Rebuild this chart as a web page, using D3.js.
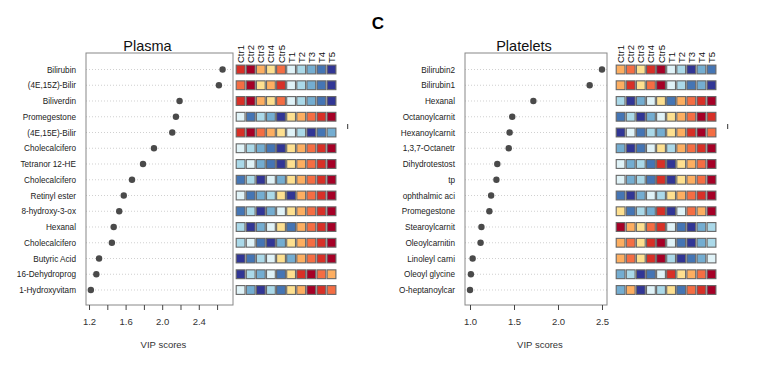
<!DOCTYPE html>
<html>
<head>
<meta charset="utf-8">
<script src="https://cdn.jsdelivr.net/npm/d3@7"></script>
<style>
  body { margin: 0; background: #fff; }
  svg { font-family: "Liberation Sans", Arial, sans-serif; }
</style>
</head>
<body>
<svg width="780" height="373"></svg>
<script>
// samples (heatmap columns)
const samples = ["Ctr1", "Ctr2", "Ctr3", "Ctr4", "Ctr5", "T1", "T2", "T3", "T4", "T5"]

// Plasma
const plasmaNames = ["Bilirubin", "(4E,15Z)-Bilir", "Biliverdin", "Promegestone", "(4E,15E)-Bilir",
  "Cholecalcifero", "Tetranor 12-HE", "Cholecalcifero", "Retinyl ester", "8-hydroxy-3-ox",
  "Hexanal", "Cholecalcifero", "Butyric Acid", "16-Dehydroprog", "1-Hydroxyvitam"]
const plasmaVip = [2.66, 2.62, 2.19, 2.15, 2.11, 1.91, 1.79, 1.67, 1.58, 1.53, 1.47, 1.45, 1.31, 1.28, 1.22]
// rank of each sample within a row (0 = lowest / dark blue, 9 = highest / dark red)
const plasmaRank = [
  [8, 9, 6, 5, 7, 4, 3, 2, 1, 0],
  [7, 9, 5, 6, 8, 4, 3, 2, 1, 0],
  [8, 9, 6, 5, 7, 4, 3, 2, 1, 0],
  [4, 1, 3, 2, 0, 5, 6, 7, 8, 9],
  [8, 9, 7, 6, 5, 4, 3, 0, 1, 2],
  [4, 3, 2, 1, 0, 5, 6, 7, 8, 9],
  [3, 4, 2, 1, 0, 5, 6, 7, 8, 9],
  [1, 3, 0, 4, 2, 5, 6, 7, 8, 9],
  [4, 1, 2, 3, 5, 0, 6, 7, 8, 9],
  [1, 3, 0, 2, 4, 5, 6, 7, 8, 9],
  [3, 0, 2, 4, 5, 1, 6, 7, 8, 9],
  [3, 4, 1, 0, 2, 5, 6, 7, 8, 9],
  [0, 1, 3, 4, 5, 2, 6, 7, 8, 9],
  [0, 3, 2, 4, 1, 5, 8, 9, 7, 6],
  [4, 2, 0, 3, 1, 5, 6, 9, 8, 7]
]
const plasmaTicks = [1.2, 1.4, 1.6, 1.8, 2.0, 2.2, 2.4, 2.6]
const plasmaTickLabels = [1.2, 1.6, 2.0, 2.4]

// Platelets
const plateletNames = ["Bilirubin2", "Bilirubin1", "Hexanal", "Octanoylcarnit", "Hexanoylcarnit",
  "1,3,7-Octanetr", "Dihydrotestost", "tp", "ophthalmic aci", "Promegestone",
  "Stearoylcarnit", "Oleoylcarnitin", "Linoleyl carni", "Oleoyl glycine", "O-heptanoylcar"]
const plateletVip = [2.50, 2.36, 1.72, 1.48, 1.45, 1.44, 1.31, 1.30, 1.24, 1.22, 1.13, 1.12, 1.03, 1.01, 1.00]
const plateletRank = [
  [6, 7, 5, 8, 9, 4, 3, 0, 2, 1],
  [6, 8, 5, 7, 9, 4, 3, 1, 2, 0],
  [3, 0, 2, 4, 5, 1, 6, 7, 8, 9],
  [1, 3, 0, 2, 4, 5, 6, 7, 9, 8],
  [0, 4, 1, 3, 2, 5, 6, 8, 9, 7],
  [2, 0, 1, 4, 5, 3, 6, 7, 8, 9],
  [4, 2, 3, 1, 8, 0, 5, 6, 7, 9],
  [4, 2, 3, 1, 8, 0, 5, 6, 7, 9],
  [1, 0, 2, 4, 3, 5, 6, 7, 8, 9],
  [5, 1, 3, 2, 8, 0, 4, 7, 6, 9],
  [9, 6, 5, 7, 8, 4, 1, 0, 2, 3],
  [6, 7, 5, 8, 9, 4, 1, 0, 2, 3],
  [6, 7, 5, 8, 9, 3, 0, 1, 2, 4],
  [2, 3, 0, 1, 4, 8, 5, 6, 7, 9],
  [2, 6, 0, 4, 3, 5, 1, 7, 8, 9]
]
const plateletTicks = [1.0, 1.5, 2.0, 2.5]
const plateletTickLabels = [1.0, 1.5, 2.0, 2.5]

const palette = ["#313695", "#4575b4", "#74add1", "#abd9e9", "#e0f3f8",
                 "#fee090", "#fdae61", "#f46d43", "#d73027", "#a50026"]

const svg = d3.select("svg")

svg.append("text")
    .attr("x", 378).attr("y", 29)
    .attr("text-anchor", "middle")
    .attr("font-size", 17).attr("font-weight", "bold")
    .text("C")

const drawPanel = (p) => {
    const g = svg.append("g")
    const xScale = d3.scaleLinear().domain(p.domain).range([p.x0, p.x1])
    const yScale = d3.scalePoint().domain(d3.range(p.names.length)).range([69.5, 290])

    // title
    g.append("text")
        .attr("x", (p.x0 + p.x1) / 2 - 12).attr("y", 51)
        .attr("text-anchor", "middle").attr("font-size", 14.5)
        .attr("fill", "#111")
        .text(p.title)

    // dotted guide lines
    g.selectAll(".grid").data(p.names).enter().append("line")
        .attr("x1", p.x0).attr("x2", p.x1)
        .attr("y1", (d, i) => yScale(i)).attr("y2", (d, i) => yScale(i))
        .attr("stroke", "#bbb").attr("stroke-width", 0.7)
        .attr("stroke-dasharray", "1,2")

    // frame
    g.append("rect")
        .attr("x", p.x0).attr("y", 53)
        .attr("width", p.x1 - p.x0).attr("height", 305 - 53)
        .attr("fill", "none").attr("stroke", "#888").attr("stroke-width", 1)

    // feature labels
    g.selectAll(".lab").data(p.names).enter().append("text")
        .attr("x", p.x0 - 10).attr("y", (d, i) => yScale(i) + 3)
        .attr("text-anchor", "end").attr("font-size", 8.2)
        .attr("fill", "#222")
        .text(d => d)

    // dots
    g.selectAll(".dot").data(p.vip).enter().append("circle")
        .attr("cx", d => xScale(d)).attr("cy", (d, i) => yScale(i))
        .attr("r", 3.2).attr("fill", "#4a4a4a")

    // x axis
    const axis = d3.axisBottom(xScale)
        .tickValues(p.ticks).tickSize(5).tickPadding(8)
        .tickFormat(d => p.tickLabels.some(t => Math.abs(t - d) < 1e-9) ? d3.format(".1f")(d) : "")
    const ax = g.append("g").attr("transform", "translate(0,305)").call(axis)
    ax.select(".domain").remove()
    ax.selectAll("line").attr("stroke", "#444")
    ax.selectAll("text").attr("font-size", 9.5).attr("fill", "#333")
        .attr("font-family", "Liberation Sans, Arial, sans-serif")

    g.append("text")
        .attr("x", (p.x0 + p.x1) / 2 + 4).attr("y", 348)
        .attr("text-anchor", "middle").attr("font-size", 9.5).attr("fill", "#333")
        .text("VIP scores")

    // heatmap
    const hx = d3.scaleBand().domain(samples).range([p.h0, p.h0 + 101]).paddingInner(0.1).paddingOuter(0.05)
    const cell = 8.8
    p.ranks.forEach((row, i) => {
        g.selectAll(null).data(row).enter().append("rect")
            .attr("x", (d, j) => hx(samples[j]))
            .attr("y", yScale(i) - cell / 2)
            .attr("width", cell).attr("height", cell)
            .attr("fill", d => palette[d])
            .attr("stroke", "#666").attr("stroke-width", 1.1)
    })

    g.selectAll(".col").data(samples).enter().append("text")
        .attr("transform", d => "translate(" + (hx(d) + cell / 2 + 3.5) + ",63) rotate(-90)")
        .attr("font-size", 9.5).attr("fill", "#111")
        .text(d => d)

    // small stray marks right of the heatmap
    g.append("line")
        .attr("x1", p.h0 + 112).attr("x2", p.h0 + 112)
        .attr("y1", 124).attr("y2", 129)
        .attr("stroke", "#333").attr("stroke-width", 1)
}

drawPanel({
    title: "Plasma", names: plasmaNames, vip: plasmaVip, ranks: plasmaRank,
    ticks: plasmaTicks, tickLabels: plasmaTickLabels,
    domain: [1.167, 2.774], x0: 86, x1: 233, h0: 235.7
})
drawPanel({
    title: "Platelets", names: plateletNames, vip: plateletVip, ranks: plateletRank,
    ticks: plateletTicks, tickLabels: plateletTickLabels,
    domain: [0.943, 2.557], x0: 465, x1: 607, h0: 615.7
})
</script>
</body>
</html>
